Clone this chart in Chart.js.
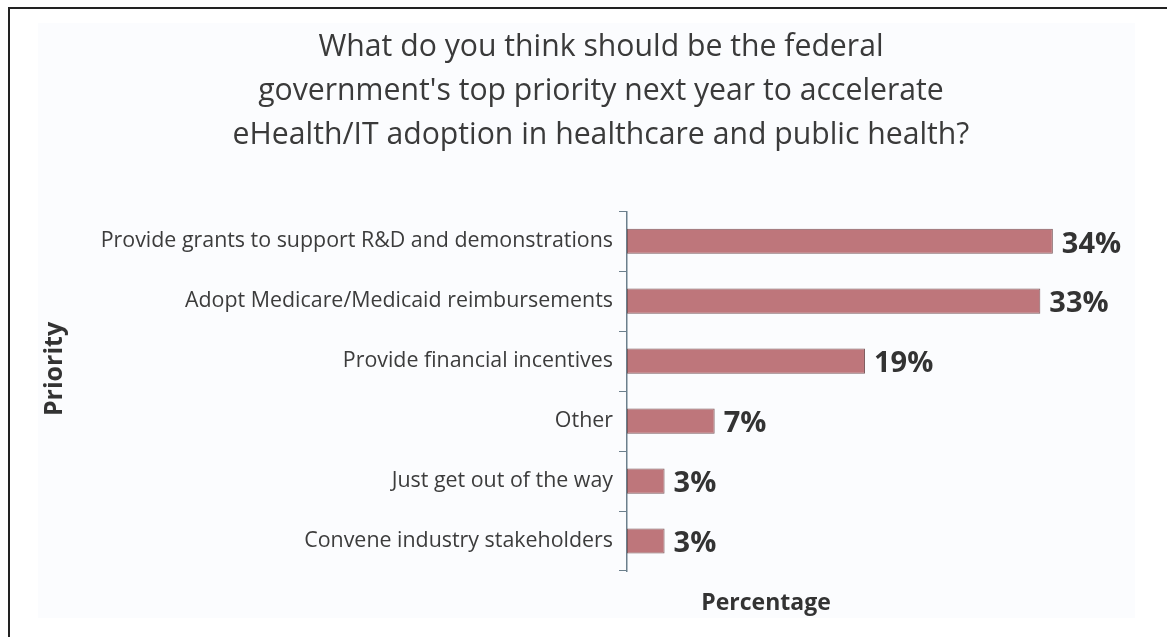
<!DOCTYPE html>
<html>
<head>
<meta charset="utf-8">
<script src="https://cdn.jsdelivr.net/npm/chart.js@4"></script>
<style>
  html, body { margin: 0; padding: 0; background: #ffffff; }
  #wrap { width: 1167px; height: 637px; position: relative; }
</style>
</head>
<body>
<div id="wrap"><canvas id="chart" width="1167" height="637"></canvas></div>
<script>
// Datos del gráfico
const priorities = [
    'Provide grants to support R&D and demonstrations',
    'Adopt Medicare/Medicaid reimbursements',
    'Provide financial incentives',
    'Other',
    'Just get out of the way',
    'Convene industry stakeholders'
];
const percentages = [34, 33, 19, 7, 3, 3];
const titleLines = [
    'What do you think should be the federal',
    "government's top priority next year to accelerate",
    'eHealth/IT adoption in healthcare and public health?'
];
const xTitle = 'Percentage';
const yTitle = 'Priority';

const FONT = "'Open Sans', 'Noto Sans', sans-serif";

// Marco y panel de fondo
const framePlugin = {
    id: 'frame',
    beforeDraw(chart) {
        const c = chart.ctx;
        c.save();
        c.fillStyle = '#fbfcfe';
        c.fillRect(38, 23, 1097, 595);
        c.strokeStyle = '#222222';
        c.lineWidth = 2;
        c.beginPath();
        c.moveTo(9, 637);
        c.lineTo(9, 8);
        c.lineTo(1167, 8);
        c.stroke();
        c.restore();
    }
};

// Etiquetas de porcentaje y títulos de ejes
const valueLabels = {
    id: 'valueLabels',
    afterDatasetsDraw(chart) {
        const c = chart.ctx;
        const meta = chart.getDatasetMeta(0);
        c.save();
        c.font = "bold 29px " + FONT;
        c.fillStyle = '#333333';
        c.textBaseline = 'middle';
        meta.data.forEach((bar, i) => {
            c.fillText(percentages[i] + '%', bar.x + 9, bar.y + 3);
        });

        // títulos de los ejes
        c.font = "bold 23px " + FONT;
        c.textAlign = 'center';
        c.fillText(xTitle, 766, 603);
        c.translate(55, 369);
        c.rotate(-Math.PI / 2);
        c.font = "bold 25px " + FONT;
        c.fillText(yTitle, 0, 0);
        c.restore();
    }
};

new Chart(document.getElementById('chart'), {
    type: 'bar',
    data: {
        labels: priorities,
        datasets: [{
            data: percentages,
            backgroundColor: '#be767b',
            borderColor: '#7d5a5d',
            borderWidth: 1,
            borderSkipped: false,
            categoryPercentage: 1,
            barPercentage: 0.42
        }]
    },
    options: {
        indexAxis: 'y',
        responsive: false,
        animation: false,
        layout: { padding: { left: 74, right: 39, top: 25, bottom: 58 } },
        plugins: {
            legend: { display: false },
            tooltip: { enabled: false },
            title: {
                display: true,
                text: titleLines,
                color: '#3a3a3a',
                font: { family: FONT, size: 30.2, weight: 'normal', lineHeight: 1.46 },
                padding: { top: 0, bottom: 54 }
            }
        },
        scales: {
            x: {
                min: 0,
                max: 40,
                ticks: { display: false },
                grid: { display: false },
                border: { display: false }
            },
            y: {
                afterFit(scale) { scale.width = 627 - 74; },
                ticks: {
                    color: '#3c3c3c',
                    font: { family: FONT, size: 21.4 },
                    padding: 6
                },
                grid: {
                    offset: true,
                    drawOnChartArea: false,
                    tickLength: 8,
                    color: '#6b7f8c'
                },
                border: { color: '#6b7f8c', width: 1.5 }
            }
        }
    },
    plugins: [framePlugin, valueLabels]
});
</script>
</body>
</html>
